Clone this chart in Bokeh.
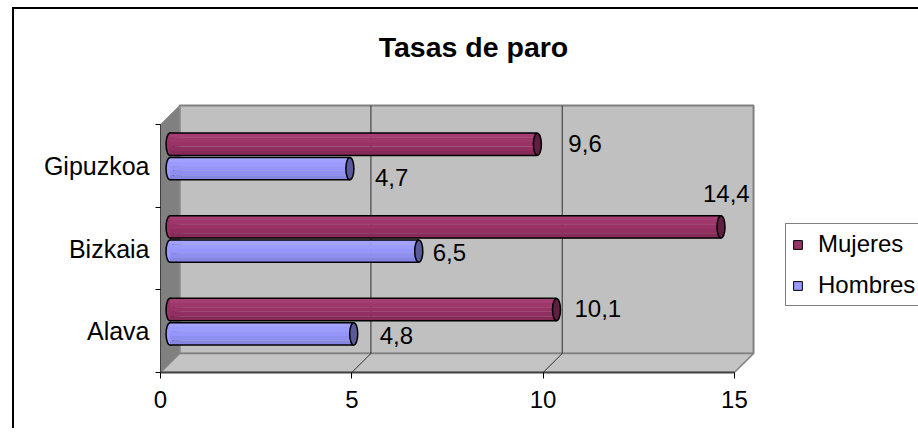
from bokeh.plotting import figure
from bokeh.models import (FixedTicker, Range1d, Legend, LegendItem,
                          ColumnDataSource, Label)
from bokeh.embed import file_html
from bokeh.resources import INLINE
from bokeh.core.properties import value

# ---------------- data ----------------
categories = ["Alava", "Bizkaia", "Gipuzkoa"]
hombres = [4.8, 6.5, 4.7]
mujeres = [10.1, 14.4, 9.6]
x_ticks = [0, 5, 10, 15]
title_text = "Tasas de paro"
series_names = ["Mujeres", "Hombres"]

# pixel nudges of the data labels (Alava, Bizkaia, Gipuzkoa)
hombres_nudge_x = [26, 14, 25]
hombres_nudge_y = [2, 1, 9]
mujeres_nudge_x = [18, -18, 31]
mujeres_nudge_y = [-1, -33, -1]

# ---------------- style ----------------
FONT = "Liberation Sans"
MUJ = "#993366"
HOM = "#9999FF"
MUJ_STRIPS = ["#A53E73", "#9E386B", "#993366", "#902F60", "#862B58"]
HOM_STRIPS = ["#A3A3FF", "#9C9CFF", "#9696FA", "#8E8EEE", "#8686E2"]
MUJ_CAP = "#5E1F40"
HOM_CAP = "#5A5A9A"
DX, DY = 0.5, 0.23          # depth offsets (data units)
H = 0.27                    # cylinder thickness
SEP = 0.147                 # half distance between series
CAPW = 0.21                 # width of end ellipse
PX_X, PX_Y = 38.26, 82.64   # pixels per data unit
W, HT = 918, 428
LEFT, BOTTOM = 160, 56
FRAME_H = HT - BOTTOM

xmax = x_ticks[-1]
ncat = len(categories)

p = figure(width=W, height=HT,
           x_range=Range1d(0, (W - LEFT) / PX_X),
           y_range=Range1d(0, FRAME_H / PX_Y),
           output_backend="svg", toolbar_location=None,
           min_border_left=LEFT, min_border_right=0,
           min_border_top=0, min_border_bottom=BOTTOM)
p.background_fill_color = "white"
p.background_fill_alpha = 0
p.border_fill_color = "white"
p.border_fill_alpha = 0
p.outline_line_color = None
p.xgrid.visible = False
p.ygrid.visible = False
# chart-area border (top and left edges; right and bottom lie off the page)
p.styles = {
    "background-image": "linear-gradient(#000,#000), linear-gradient(#000,#000)",
    "background-size": "2px 600px, 1200px 2px",
    "background-position": "12px 7px, 12px 7px",
    "background-repeat": "no-repeat, no-repeat",
    "background-color": "white",
}

# ---- walls ----
p.patch([DX, xmax + DX, xmax + DX, DX], [DY, DY, ncat + DY, ncat + DY],
        fill_color="#C0C0C0", line_color="#808080", line_width=2)
p.patch([0, xmax, xmax + DX, DX], [0, 0, DY, DY],
        fill_color="#C4C4C4", line_color="#808080", line_width=1.5)
p.patch([0, DX, DX, 0], [0, DY, ncat + DY, ncat],
        fill_color="#808080", line_color="#8A8A8A", line_width=1)

# ---- gridlines ----
inner = x_ticks[1:-1]
p.segment(x0=[t + DX for t in inner], y0=[DY] * len(inner),
          x1=[t + DX for t in inner], y1=[ncat + DY] * len(inner),
          line_color="#303030", line_width=1)
p.segment(x0=inner, y0=[0] * len(inner),
          x1=[t + DX for t in inner], y1=[DY] * len(inner),
          line_color="#303030", line_width=1)


def cylinders(vals, shift, strips, base, cap, nx, ny):
    yc = [i + 0.5 + shift + DY / 2 for i in range(len(vals))]
    xs = [DX / 2] * len(vals)
    xe = [v + DX / 2 for v in vals]
    p.ellipse(x=xs, y=yc, width=CAPW, height=H, fill_color=base,
              line_color="black", line_width=1.5)
    n = len(strips)
    for k, c in enumerate(strips):
        ys = [y + H / 2 - (k + 0.5) * H / n for y in yc]
        p.hbar(y=ys, left=xs, right=xe, height=H / n + 0.002,
               fill_color=c, line_color=None)
    for sgn in (1, -1):
        p.segment(x0=xs, y0=[y + sgn * H / 2 for y in yc],
                  x1=xe, y1=[y + sgn * H / 2 for y in yc],
                  line_color="black", line_width=1.5)
    p.ellipse(x=xe, y=yc, width=CAPW, height=H, fill_color=cap,
              line_color="black", line_width=1.5)
    src = ColumnDataSource(dict(
        x=xe, y=yc, t=[f"{v:.1f}".replace(".", ",") for v in vals],
        dx=nx, dy=ny))
    p.text(x="x", y="y", text="t", x_offset="dx", y_offset="dy", source=src,
           text_font=value(FONT), text_font_size="24px", text_color="black",
           text_baseline="middle", text_align="left")


cylinders(hombres, -SEP, HOM_STRIPS, HOM, HOM_CAP, hombres_nudge_x, hombres_nudge_y)
cylinders(mujeres, SEP, MUJ_STRIPS, MUJ, MUJ_CAP, mujeres_nudge_x, mujeres_nudge_y)

# ---- axes ----
xa = p.xaxis[0]
xa.ticker = FixedTicker(ticks=x_ticks)
xa.bounds = (x_ticks[0], xmax)
xa.axis_line_color = "#404040"
xa.axis_line_width = 2
xa.major_tick_out = 6
xa.major_tick_in = 0
xa.major_tick_line_color = "black"
xa.minor_tick_line_color = None
xa.major_label_standoff = 12
xa.major_label_text_font = FONT
xa.major_label_text_font_size = "24px"
xa.major_label_text_color = "black"

ya = p.yaxis[0]
centers = [i + 0.5 for i in range(ncat)]
ya.ticker = FixedTicker(ticks=centers, minor_ticks=list(range(ncat + 1)))
ya.major_label_overrides = {c: name for c, name in zip(centers, categories)}
ya.bounds = (0, ncat)
ya.axis_line_color = "#404040"
ya.axis_line_width = 1
ya.major_tick_out = 0
ya.major_tick_in = 0
ya.minor_tick_out = 5
ya.minor_tick_in = 0
ya.minor_tick_line_color = "black"
ya.major_label_standoff = 6
ya.major_label_text_font = FONT
ya.major_label_text_font_size = "25px"
ya.major_label_text_color = "black"

# ---- title (inside the frame, above the walls) ----
p.add_layout(Label(x=(473 - LEFT) / PX_X, y=(FRAME_H - 46) / PX_Y,
                   text=title_text, text_font=FONT, text_font_size="28.5px",
                   text_font_style="bold", text_color="black",
                   text_align="center", text_baseline="middle"))

# ---- legend ----
r_m = p.hbar(y=[-10], left=[0], right=[1], height=1, fill_color=MUJ, line_color="black")
r_h = p.hbar(y=[-10], left=[0], right=[1], height=1, fill_color=HOM, line_color="black")
legend = Legend(items=[LegendItem(label=series_names[0], renderers=[r_m]),
                       LegendItem(label=series_names[1], renderers=[r_h])],
                location=(785 - LEFT, FRAME_H - 306), orientation="vertical",
                label_text_font=FONT, label_text_font_size="24px",
                label_text_color="black", label_height=24,
                glyph_width=11, glyph_height=11, label_standoff=15,
                spacing=13, padding=6, margin=0,
                border_line_color="black", border_line_width=1,
                background_fill_color="white", background_fill_alpha=1)
p.add_layout(legend)

open("out.html", "w").write(file_html(p, INLINE))
